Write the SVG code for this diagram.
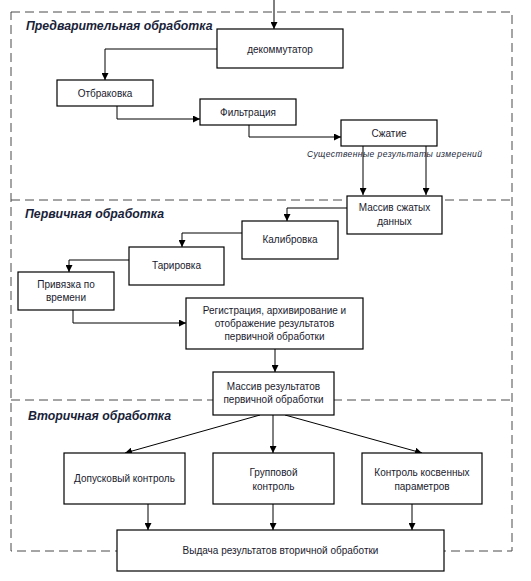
<svg xmlns="http://www.w3.org/2000/svg" width="531" height="581" viewBox="0 0 531 581">
<style>
.box{fill:#fff;stroke:#000;stroke-width:1.2}
.t{font-family:"Liberation Sans",Arial,sans-serif;font-size:10px;fill:#1a1a2e;text-anchor:middle}
.title{font-family:"Liberation Sans",Arial,sans-serif;font-size:12.3px;font-weight:bold;font-style:italic;fill:#1a1f3a}
.lbl{font-family:"Liberation Sans",Arial,sans-serif;font-size:8.5px;font-style:italic;fill:#1a1f3a}
.c{fill:none;stroke:#000;stroke-width:1}
.dash{fill:none;stroke:#4a4a4a;stroke-width:1;stroke-dasharray:9 5}
</style>
<defs>
<marker id="a" viewBox="0 0 10 10" refX="10" refY="5" markerWidth="7" markerHeight="7" markerUnits="userSpaceOnUse" orient="auto">
<path d="M0,0 L10,5 L0,10 z" fill="#000"/>
</marker>
</defs>
<rect width="531" height="581" fill="#fff"/>
<g id="regions">
<rect class="dash" x="11" y="12" width="501" height="539"/>
<line class="dash" x1="11" y1="200" x2="512" y2="200"/>
<line class="dash" x1="11" y1="400" x2="512" y2="400"/>
<text class="title" x="26" y="30">Предварительная обработка</text>
<text class="title" x="25" y="218">Первичная обработка</text>
<text class="title" x="28" y="420">Вторичная обработка</text>
<text class="lbl" x="307" y="157" textLength="175" lengthAdjust="spacing">Существенные  результаты  измерений</text>
</g>
<g id="connectors">
<path class="c" d="M274,0 V29" marker-end="url(#a)"/>
<path class="c" d="M217,49 H105 V80" marker-end="url(#a)"/>
<path class="c" d="M117,106 V119 H200" marker-end="url(#a)"/>
<path class="c" d="M249,125 V137 H341" marker-end="url(#a)"/>
<path class="c" d="M363,146 V195" marker-end="url(#a)"/>
<path class="c" d="M426,146 V195" marker-end="url(#a)"/>
<path class="c" d="M347,208 H287 V221" marker-end="url(#a)"/>
<path class="c" d="M242,233 H182 V247" marker-end="url(#a)"/>
<path class="c" d="M129,260 H69 V272" marker-end="url(#a)"/>
<path class="c" d="M73,310 V323 H186" marker-end="url(#a)"/>
<path class="c" d="M275,349 V372" marker-end="url(#a)"/>
<path class="c" d="M260,415 L125,453" marker-end="url(#a)"/>
<path class="c" d="M273,415 V453" marker-end="url(#a)"/>
<path class="c" d="M285,415 L422,453" marker-end="url(#a)"/>
<path class="c" d="M148,504 V530" marker-end="url(#a)"/>
<path class="c" d="M273,504 V530" marker-end="url(#a)"/>
<path class="c" d="M412,504 V530" marker-end="url(#a)"/>
</g>
<g id="n1"><rect class="box" x="217" y="29" width="126" height="39"/><text class="t" x="280" y="52.5">декоммутатор</text></g>
<g id="n2"><rect class="box" x="57" y="80" width="96" height="26"/><text class="t" x="105" y="96.5">Отбраковка</text></g>
<g id="n3"><rect class="box" x="200" y="99" width="96" height="26"/><text class="t" x="248" y="115.5">Фильтрация</text></g>
<g id="n4"><rect class="box" x="341" y="120" width="96" height="26"/><text class="t" x="389" y="136.5">Сжатие</text></g>
<g id="n5"><rect class="box" x="347" y="196" width="95" height="38"/><text class="t" x="394.5" y="211">Массив сжатых</text><text class="t" x="394.5" y="224.5">данных</text></g>
<g id="n6"><rect class="box" x="242" y="221" width="96" height="38"/><text class="t" x="290" y="243">Калибровка</text></g>
<g id="n7"><rect class="box" x="129" y="247" width="95" height="38"/><text class="t" x="176.5" y="269">Тарировка</text></g>
<g id="n8"><rect class="box" x="18" y="272" width="96" height="38"/><text class="t" x="66" y="287.5">Привязка по</text><text class="t" x="66" y="300.5">времени</text></g>
<g id="n9"><rect class="box" x="186" y="298" width="177" height="51"/><text class="t" x="274.5" y="313.5">Регистрация, архивирование и</text><text class="t" x="274.5" y="326.5">отображение результатов</text><text class="t" x="274.5" y="339.5">первичной обработки</text></g>
<g id="n10"><rect class="box" x="213" y="372" width="121" height="43"/><text class="t" x="273.5" y="389.5">Массив результатов</text><text class="t" x="273.5" y="402.5">первичной обработки</text></g>
<g id="n11"><rect class="box" x="64" y="453" width="121" height="51"/><text class="t" x="124.5" y="481.5">Допусковый контроль</text></g>
<g id="n12"><rect class="box" x="213" y="453" width="121" height="51"/><text class="t" x="273.5" y="475.5">Групповой</text><text class="t" x="273.5" y="489.5">контроль</text></g>
<g id="n13"><rect class="box" x="362" y="453" width="120" height="51"/><text class="t" x="422" y="475.5">Контроль косвенных</text><text class="t" x="422" y="489.5">параметров</text></g>
<g id="n14"><rect class="box" x="117" y="530" width="327" height="41"/><text class="t" x="280.5" y="553.5">Выдача результатов вторичной обработки</text></g>
</svg>
